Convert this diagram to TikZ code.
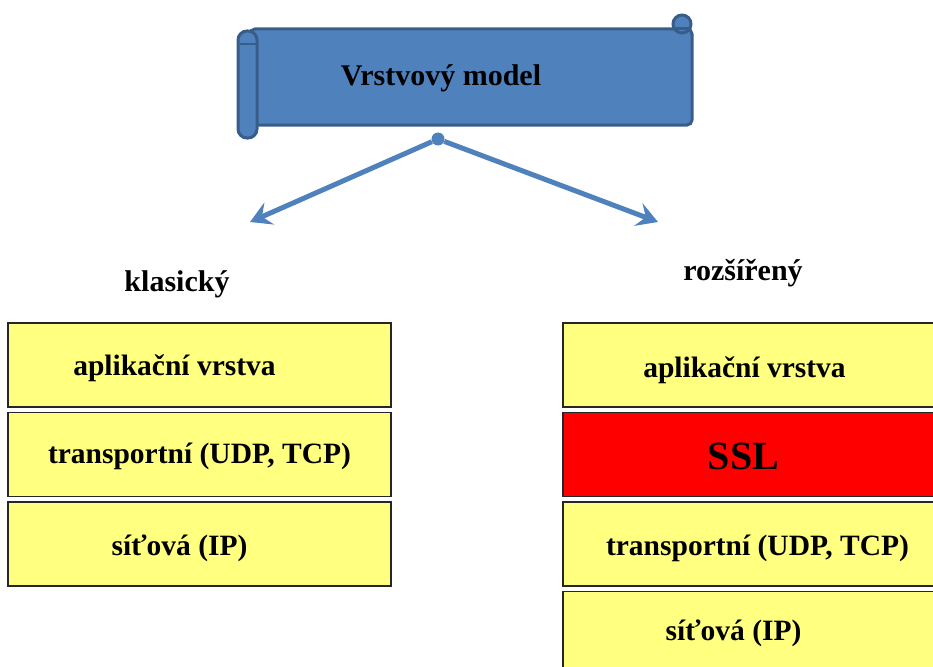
\documentclass[tikz,border=0pt]{standalone}
\usepackage{fontspec}
\setmainfont{Liberation Serif}
\usetikzlibrary{positioning, arrows.meta}

\definecolor{scrollblue}{RGB}{79,129,189}
\definecolor{scrolledge}{RGB}{56,93,138}
\definecolor{layeryellow}{RGB}{255,255,128}
\definecolor{sslred}{RGB}{255,0,0}

\tikzset{
  layer/.style={draw=black!85, line width=1.5pt, fill=layeryellow, minimum width=383pt, minimum height=84pt, inner sep=0pt},
  layertext/.style={font=\fontsize{29.5}{32}\selectfont\bfseries},
  branch/.style={draw=scrollblue, line width=5pt, -{Stealth[length=21pt, width=24pt, inset=8pt]}},
}

\begin{document}
\begin{tikzpicture}[x=1pt, y=-1pt, node distance=4pt]
	\useasboundingbox (0,0) rectangle (933,666);
	\clip (0,0) rectangle (933,666);
	% scroll banner
	\draw[draw=scrolledge, fill=scrollblue, line width=3pt, rounded corners=5pt] (250,29) rectangle (692,125);
	\draw[draw=scrolledge, fill=scrollblue, line width=3pt, rounded corners=9pt] (238,31) rectangle (257,138);
	\draw[draw=scrolledge, line width=2.5pt] (240,44) -- (256,44);
	\draw[draw=scrolledge, fill=scrollblue, line width=3pt] (682,24) circle (9);
	\draw[draw=scrolledge, line width=3pt] (673,29) -- (691,29);
	\node[font=\fontsize{30}{32}\selectfont\bfseries] (title) at (441,78) {Vrstvový model};
	% branches
	\node[circle, fill=scrollblue, inner sep=0pt, minimum size=13pt] (hub) at (438,139) {};
	\coordinate (lefttip) at (250,222);
	\coordinate (righttip) at (658,222);
	\draw[branch] (hub) -- (lefttip);
	\draw[branch] (hub) -- (righttip);
	\node[font=\fontsize{30}{32}\selectfont\bfseries] (classic) at (177,284) {klasický};
	\node[font=\fontsize{30}{32}\selectfont\bfseries] (extended) at (743,273) {rozšířený};
	% classic stack
	\node[layer, label={[layertext, xshift=-25pt, yshift=-3pt]center:aplikační vrstva}] (capp) at (199.5,365) {};
	\node[layer, below=of capp, label={[layertext, yshift=-2pt]center:transportní (UDP, TCP)}] (ctrans) {};
	\node[layer, below=of ctrans, label={[layertext, xshift=-20pt, yshift=-4pt]center:síťová (IP)}] (cnet) {};
	% extended stack
	\node[layer, label={[layertext, xshift=-10pt, yshift=-5pt]center:aplikační vrstva}] (eapp) at (754.5,365) {};
	\node[layer, fill=sslred, below=of eapp, label={[font=\fontsize{40}{44}\selectfont\bfseries, xshift=-11pt, yshift=-2pt]center:SSL}] (essl) {};
	\node[layer, below=of essl, label={[layertext, xshift=3pt, yshift=-4pt]center:transportní (UDP, TCP)}] (etrans) {};
	\node[layer, below=of etrans, label={[layertext, xshift=-21pt, yshift=0pt]center:síťová (IP)}] (enet) {};
\end{tikzpicture}
\end{document}
